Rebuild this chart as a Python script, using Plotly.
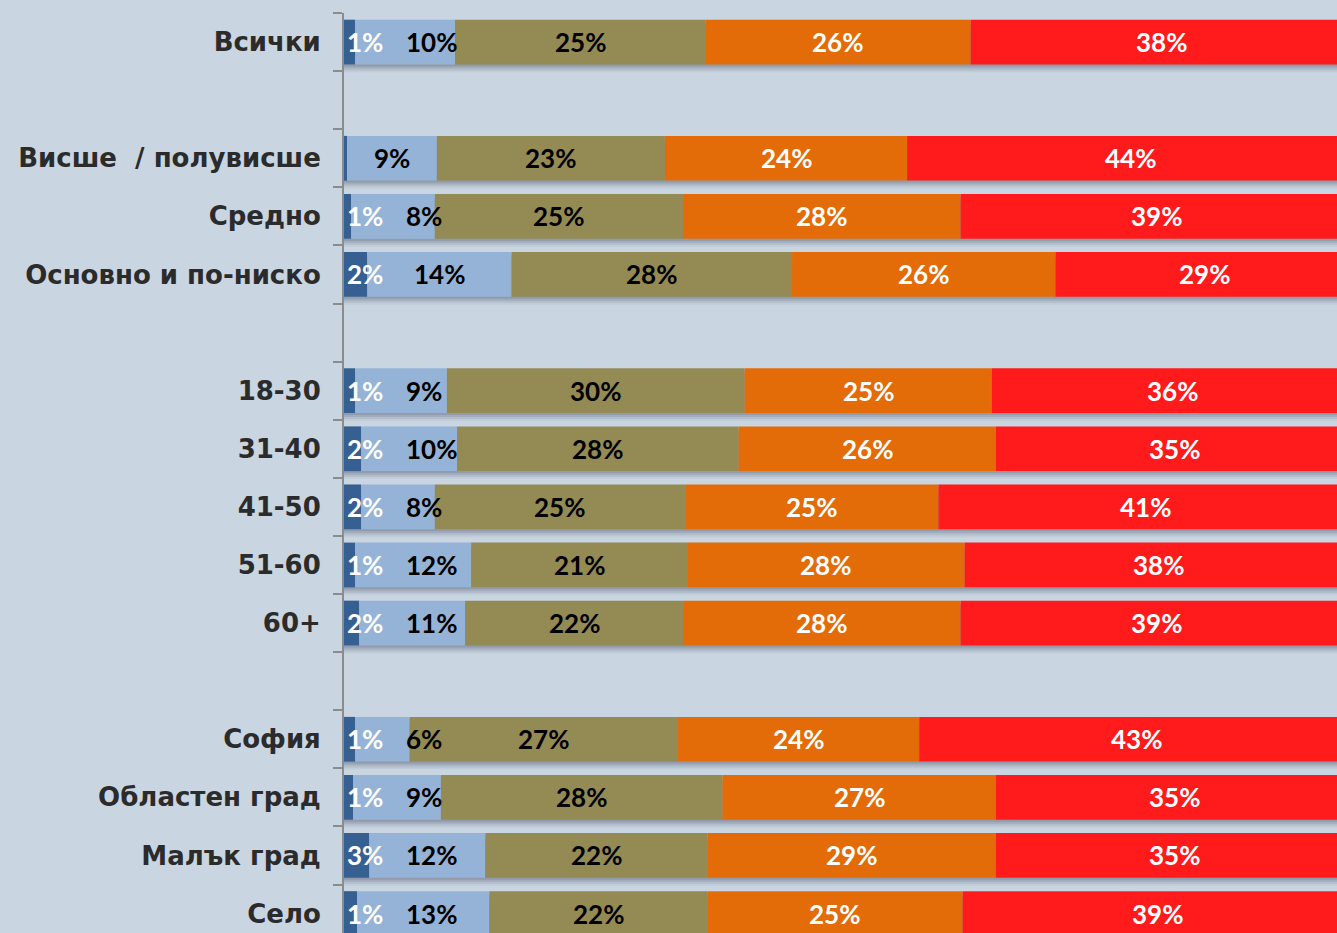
import plotly.graph_objects as go

# ---- data ----
groups = [
    ["Всички"],
    ["Висше \u00a0/ полувисше", "Средно", "Основно и по-ниско"],
    ["18-30", "31-40", "41-50", "51-60", "60+"],
    ["София", "Областен град", "Малък град", "Село"],
]
categories = [c for g in groups for c in g]

s_dark = [1.1, 0.3, 0.7, 2.3, 1.1, 1.7, 1.7, 1.1, 1.5, 1.1, 0.9, 2.5, 1.3]
s_light = [9.9, 8.9, 8.3, 14.3, 9.1, 9.5, 7.3, 11.5, 10.5, 5.4, 8.7, 11.5, 13.1]
s_olive = [24.8, 22.6, 24.6, 27.8, 29.5, 27.9, 24.8, 21.4, 21.6, 26.6, 27.9, 22.0, 21.6]
s_orange = [26.3, 24.0, 27.5, 26.1, 24.5, 25.5, 25.1, 27.5, 27.5, 23.9, 27.1, 28.6, 25.3]
s_red = [37.9, 44.2, 38.9, 29.5, 35.8, 35.4, 41.1, 38.5, 38.9, 43.0, 35.4, 35.4, 38.7]

lbl_dark = [1, None, 1, 2, 1, 2, 2, 1, 2, 1, 1, 3, 1]
lbl_light = [10, 9, 8, 14, 9, 10, 8, 12, 11, 6, 9, 12, 13]
lbl_olive = [25, 23, 25, 28, 30, 28, 25, 21, 22, 27, 28, 22, 22]
lbl_orange = [26, 24, 28, 26, 25, 26, 25, 28, 28, 24, 27, 29, 25]
lbl_red = [38, 44, 39, 29, 36, 35, 41, 38, 39, 43, 35, 35, 39]

series = [
    ("s1", s_dark, lbl_dark, "#376092", "white"),
    ("s2", s_light, lbl_light, "#95b3d7", "black"),
    ("s3", s_olive, lbl_olive, "#948a54", "black"),
    ("s4", s_orange, lbl_orange, "#e36c09", "white"),
    ("s5", s_red, lbl_red, "#ff1b1b", "white"),
]

# ---- layout constants ----
W, H = 1337, 933
ML, MT = 344, 13
X_MAX = 98.4
PLOT_W = W - ML
K = PLOT_W / X_MAX            # px per percent unit
SLOT_PX = 58.1
BAR_W = 0.77
BG = "#c9d5e1"
LBL_SIZE = 26
LBL_FONT = dict(family="Lato", size=LBL_SIZE, weight=700)

# category order with spacer rows between groups
cat_order = []
for gi, g in enumerate(groups):
    if gi > 0:
        cat_order.append(" " * gi)
    cat_order.extend(g)
n_slots_visible = (H - MT) / SLOT_PX
y_range = [-0.5 + n_slots_visible, -0.5]

fig = go.Figure()

# shadows
totals = [sum(v) for v in zip(*[s[1] for s in series])]
for d, a in [(2, 0.13), (4, 0.11), (6, 0.08), (8, 0.05)]:
    fig.add_trace(go.Bar(
        y=categories, x=totals, base=[0] * len(categories), orientation="h",
        width=BAR_W, offset=-BAR_W / 2 + d / SLOT_PX,
        marker=dict(color=f"rgba(30,40,60,{a})", line=dict(width=0)),
        showlegend=False, hoverinfo="skip",
    ))

annotations = []
base = [0.0] * len(categories)
for si, (name, vals, lbls, col, tcol) in enumerate(series):
    fig.add_trace(go.Bar(
        y=categories, x=vals, base=list(base), orientation="h", name=name,
        width=BAR_W, marker=dict(color=col, line=dict(width=0)),
        showlegend=False, hoverinfo="skip",
    ))
    for i, c in enumerate(categories):
        if lbls[i] is None:
            continue
        txt = f"{lbls[i]}%"
        if si == 0:
            annotations.append(dict(x=0, y=c, xref="x", yref="y", text=txt,
                                    xanchor="left", xshift=1, showarrow=False,
                                    font=dict(color=tcol, **LBL_FONT)))
            continue
        cx = base[i] + vals[i] / 2
        if si == 1 and lbl_dark[i] is not None:
            hw = LBL_SIZE * (0.58 * len(str(lbls[i])) + 0.8) / 2
            cx = max(cx, (62 + hw) / K)
        annotations.append(dict(x=cx, y=c, xref="x", yref="y", text=txt,
                                xanchor="center", showarrow=False,
                                font=dict(color=tcol, **LBL_FONT)))
    base = [b + v for b, v in zip(base, vals)]

fig.update_layout(
    width=W, height=H,
    margin=dict(l=ML, r=0, t=MT, b=0, pad=0),
    paper_bgcolor=BG, plot_bgcolor=BG,
    barmode="overlay",
    showlegend=False,
    hovermode=False,
    annotations=annotations,
    xaxis=dict(range=[0, X_MAX], visible=False, showgrid=False, zeroline=False),
    yaxis=dict(
        type="category", categoryorder="array", categoryarray=cat_order,
        range=y_range, showgrid=False, zeroline=False,
        showline=True, linecolor="#8c8c8c", linewidth=2,
        ticks="outside", tickson="boundaries", ticklen=9, tickwidth=2,
        tickcolor="#8c8c8c", ticklabelstandoff=16,
        tickfont=dict(family="DejaVu Sans", size=26, weight=700, color="#2b2b2b"),
    ),
)

fig.write_html(
    "out.html",
    config={"displayModeBar": False},
    post_script="document.body.style.margin='0';document.body.style.overflow='hidden';",
)
